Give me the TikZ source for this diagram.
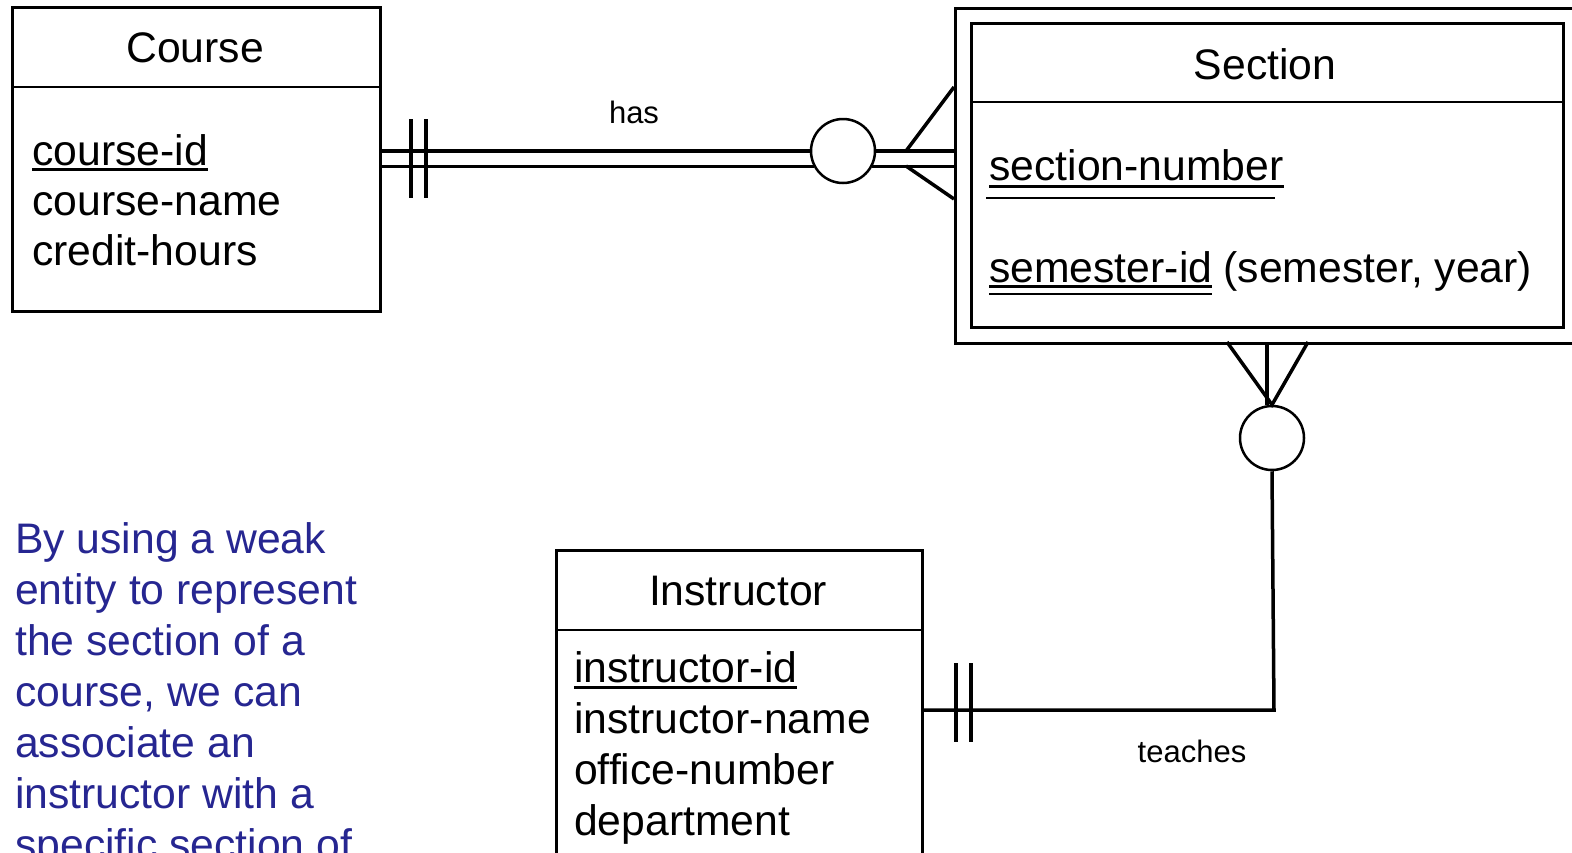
\documentclass[tikz,border=0pt]{standalone}
\usepackage{fontspec}
\setmainfont{Liberation Sans}
\definecolor{noteblue}{RGB}{38,38,145}
\begin{document}
\begin{tikzpicture}[x=1pt,y=-1pt,
    box/.style={draw,line width=2.5pt,inner sep=0pt,anchor=north west},
    title/.style={font=\fontsize{42.7}{51}\selectfont,inner sep=0pt},
    attr/.style={font=\fontsize{42.7}{51}\selectfont,inner sep=0pt,anchor=base west},
    lbl/.style={font=\fontsize{31}{37}\selectfont,inner sep=0pt},
    rel/.style={line width=3.5pt},
    circ/.style={draw,circle,line width=2.5pt,minimum size=64pt,inner sep=0pt,fill=white},
    ul/.style={line width=3pt},
    ulthin/.style={line width=2pt}]
  \useasboundingbox (0,0) rectangle (1572,852);
  \clip (0,0) rectangle (1572,852);
  % entities
  \node[box,minimum width=368pt,minimum height=304pt] (course) at (11,6) {};
  \node[box,minimum width=640pt,minimum height=335pt] (sec outer) at (954,7) {};
  \node[box,minimum width=592pt,minimum height=304pt] (section) at (970,22) {};
  \node[box,minimum width=366pt,minimum height=330pt] (instructor) at (555,549) {};
  \draw[line width=2.5pt] (course.west |- 0,87) -- (course.east |- 0,87);
  \draw[line width=2.5pt] (section.west |- 0,102) -- (section.east |- 0,102);
  \draw[line width=2.5pt] (instructor.west |- 0,630) -- (instructor.east |- 0,630);
  \node[title] (course title) at (195,48) {Course};
  \node[title] (section title) at (1265,64) {Section};
  \node[title] (instructor title) at (738,591) {Instructor};
  % attributes
  \node[attr] (course id) at (32,165) {course-id};
  \node[attr] (course name) at (32,215) {course-name};
  \node[attr] (credit hours) at (32,265) {credit-hours};
  \draw[ul] ([yshift=-4pt]course id.base west) -- ([yshift=-4pt]course id.base east);
  \node[attr] (section number) at (989,180) {section-number};
  \node[attr] (semester id) at (989,282) {semester-id};
  \node[attr] (semester rest) at ([xshift=11pt]semester id.base east) {(semester, year)};
  \draw[ul] ([yshift=-6pt]section number.base west) -- ([yshift=-6pt]section number.base east);
  \draw[ulthin] ([shift={(-3pt,-18pt)}]section number.base west) -- ([shift={(-9pt,-18pt)}]section number.base east);
  \draw[ul] ([yshift=-4pt]semester id.base west) -- ([yshift=-4pt]semester id.base east);
  \draw[ulthin] ([yshift=-12pt]semester id.base west) -- ([yshift=-12pt]semester id.base east);
  \node[attr] (instructor id) at (574,682) {instructor-id};
  \node[attr] (instructor name) at (574,733) {instructor-name};
  \node[attr] (office number) at (574,784) {office-number};
  \node[attr] (department) at (574,835) {department};
  \draw[ul] ([yshift=-5pt]instructor id.base west) -- ([yshift=-5pt]instructor id.base east);
  % relationships
  \node[circ] (has) at (843,151) {};
  \node[circ] (teaches) at (1272,438) {};
  \node[lbl] (has label) at (634,112) {has};
  \node[lbl] (teaches label) at (1192,751) {teaches};
  \draw[rel] (course.east |- has) -- (has.west);
  \draw[rel] (has.east) -- (sec outer.west |- has);
  \draw[rel] (course.east |- has.208) -- (has.208);
  \draw[rel] (has.332) -- (sec outer.west |- has.332);
  \draw[rel] (sec outer.west |- 0,87) -- (906,151);
  \draw[rel] (906,166) -- (sec outer.west |- 0,199);
  \foreach \x in {411,426}
    \draw[rel] (\x,119) -- (\x,198);
  \draw[rel] (1227,342) -- (teaches.north) -- (1308,342);
  \draw[rel] (teaches.north -| 1267,0) -- (1267,342);
  \coordinate (bend) at (1274,710);
  \draw[rel] (teaches.south) -- (bend) -- (instructor.east |- bend);
  \foreach \x in {956,971}
    \draw[rel] (\x,663) -- (\x,742);
  % note
  \node[attr,text=noteblue,align=left] (note) at (15,859)
    {By using a weak\\entity to represent\\the section of a\\course, we can\\associate an\\instructor with a\\specific section of};
\end{tikzpicture}
\end{document}
